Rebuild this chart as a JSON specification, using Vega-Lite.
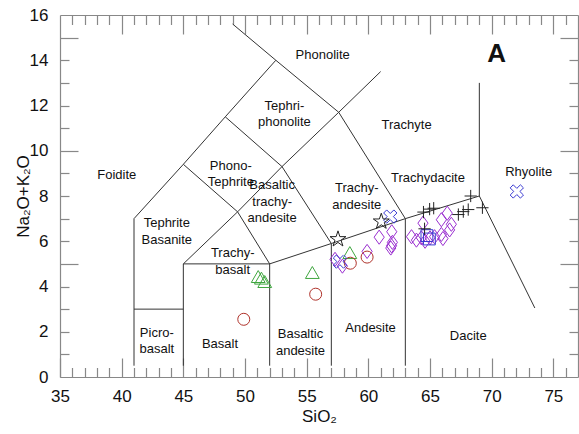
{
  "$schema": "https://vega.github.io/schema/vega-lite/v6.json",
  "width": 518,
  "height": 362,
  "autosize": "none",
  "padding": {"left": 60, "top": 15, "right": 1, "bottom": 57},
  "background": "white",
  "config": {"font": "Liberation Sans", "view": {"stroke": null}, "axis": {"grid": false, "domainColor": "#888", "tickColor": "#888", "domainWidth": 1.2, "tickWidth": 1.2, "labelColor": "#111", "titleColor": "#111", "labelFont": "Liberation Sans", "titleFont": "Liberation Sans"}},
  "datasets": {
    "bounds": [
      {"x": 41, "y": 0.5, "x2": 41, "y2": 7}, {"x": 41, "y": 7, "x2": 45, "y2": 9.4}, {"x": 45, "y": 9.4, "x2": 48.4, "y2": 11.5}, {"x": 48.4, "y": 11.5, "x2": 52.5, "y2": 14},
      {"x": 49, "y": 15.6, "x2": 52.5, "y2": 14}, {"x": 52.5, "y": 14, "x2": 57.6, "y2": 11.7}, {"x": 57.6, "y": 11.7, "x2": 63, "y2": 7}, {"x": 63, "y": 7, "x2": 69, "y2": 8}, {"x": 69, "y": 8, "x2": 73.5, "y2": 3.05},
      {"x": 41, "y": 3, "x2": 45, "y2": 3},
      {"x": 45, "y": 0.5, "x2": 45, "y2": 5}, {"x": 45, "y": 5, "x2": 52, "y2": 5}, {"x": 52, "y": 5, "x2": 57, "y2": 5.9}, {"x": 57, "y": 5.9, "x2": 63, "y2": 7},
      {"x": 45, "y": 5, "x2": 49.4, "y2": 7.3}, {"x": 49.4, "y": 7.3, "x2": 53, "y2": 9.3}, {"x": 53, "y": 9.3, "x2": 57.6, "y2": 11.7},
      {"x": 45, "y": 9.4, "x2": 49.4, "y2": 7.3}, {"x": 49.4, "y": 7.3, "x2": 52, "y2": 5},
      {"x": 48.4, "y": 11.5, "x2": 53, "y2": 9.3}, {"x": 53, "y": 9.3, "x2": 57, "y2": 5.9},
      {"x": 52, "y": 0.5, "x2": 52, "y2": 5},
      {"x": 57, "y": 0.5, "x2": 57, "y2": 5.9},
      {"x": 63, "y": 0.5, "x2": 63, "y2": 7},
      {"x": 57.6, "y": 11.7, "x2": 61, "y2": 13.5},
      {"x": 69, "y": 8, "x2": 69, "y2": 13}
    ],
    "names": [
      {"t": "Phonolite", "x": 56.3, "y": 14.25},
      {"t": "Tephri-\nphonolite", "x": 53.2, "y": 12.0},
      {"t": "Trachyte", "x": 63.1, "y": 11.15},
      {"t": "Foidite", "x": 39.6, "y": 8.94},
      {"t": "Phono-\nTephrite", "x": 48.85, "y": 9.34},
      {"t": "Rhyolite", "x": 73.0, "y": 9.07},
      {"t": "Basaltic\ntrachy-\nandesite", "x": 52.2, "y": 8.47},
      {"t": "Trachy-\nandesite", "x": 59.06, "y": 8.34},
      {"t": "Trachydacite", "x": 64.83, "y": 8.8},
      {"t": "Tephrite\nBasanite", "x": 43.66, "y": 6.79},
      {"t": "Trachy-\nbasalt", "x": 49.0, "y": 5.46},
      {"t": "Picro-\nbasalt", "x": 42.85, "y": 1.95},
      {"t": "Basalt", "x": 47.97, "y": 1.46},
      {"t": "Basaltic\nandesite", "x": 54.5, "y": 1.88},
      {"t": "Andesite", "x": 60.18, "y": 2.17},
      {"t": "Dacite", "x": 68.1, "y": 1.81}
    ],
    "samples": [
      {"g": "S1", "x": 51.07, "y": 4.44}, {"g": "S1", "x": 51.33, "y": 4.37}, {"g": "S1", "x": 51.6, "y": 4.22}, {"g": "S1", "x": 55.46, "y": 4.62}, {"g": "S1", "x": 58.5, "y": 5.5},
      {"g": "S2", "x": 49.9, "y": 2.55}, {"g": "S2", "x": 55.73, "y": 3.66}, {"g": "S2", "x": 58.54, "y": 5.03}, {"g": "S2", "x": 59.9, "y": 5.3},
      {"g": "S3", "x": 57.3, "y": 5.2}, {"g": "S3", "x": 57.9, "y": 4.9}, {"g": "S3", "x": 59.9, "y": 5.55}, {"g": "S3", "x": 60.88, "y": 6.18}, {"g": "S3", "x": 61.9, "y": 6.42}, {"g": "S3", "x": 61.95, "y": 5.95}, {"g": "S3", "x": 61.88, "y": 5.8}, {"g": "S3", "x": 61.82, "y": 5.7},
      {"g": "S3", "x": 63.5, "y": 6.2}, {"g": "S3", "x": 63.9, "y": 6.05}, {"g": "S3", "x": 64.3, "y": 6.15}, {"g": "S3", "x": 64.43, "y": 6.8}, {"g": "S3", "x": 64.6, "y": 6.0}, {"g": "S3", "x": 65.0, "y": 6.15}, {"g": "S3", "x": 65.37, "y": 6.2}, {"g": "S3", "x": 65.92, "y": 6.95}, {"g": "S3", "x": 66.4, "y": 7.24}, {"g": "S3", "x": 65.92, "y": 6.3}, {"g": "S3", "x": 66.05, "y": 6.12}, {"g": "S3", "x": 66.59, "y": 6.5}, {"g": "S3", "x": 66.73, "y": 6.75},
      {"g": "S4", "x": 72.04, "y": 8.2}, {"g": "S4", "x": 61.78, "y": 7.09}, {"g": "S4", "x": 57.7, "y": 5.1},
      {"g": "S5", "x": 64.75, "y": 6.25}, {"g": "S5", "x": 64.95, "y": 6.1},
      {"g": "S6", "x": 57.54, "y": 6.09}, {"g": "S6", "x": 61.05, "y": 6.87},
      {"g": "S7", "x": 64.47, "y": 7.29}, {"g": "S7", "x": 64.97, "y": 7.42}, {"g": "S7", "x": 65.3, "y": 7.46}, {"g": "S7", "x": 67.3, "y": 7.18}, {"g": "S7", "x": 67.7, "y": 7.31}, {"g": "S7", "x": 68.1, "y": 7.4}, {"g": "S7", "x": 68.3, "y": 8.0}, {"g": "S7", "x": 69.25, "y": 7.48}, {"g": "S7", "x": 64.56, "y": 6.55}
    ]
  },
  "layer": [
    {
      "data": {"name": "bounds"},
      "mark": {"type": "rule", "color": "#333", "strokeWidth": 1},
      "encoding": {
        "x": {"field": "x", "type": "quantitative", "scale": {"domain": [35, 77], "nice": false, "zero": false},
              "axis": {"orient": "bottom", "values": [35, 40, 45, 50, 55, 60, 65, 70, 75], "tickSize": -19, "labelPadding": 30.5,
                       "labelFontSize": 17, "labelOverlap": false, "labelFlush": false, "title": "SiO₂", "titleFontSize": 17, "titleFontWeight": "normal", "titlePadding": 4}},
        "y": {"field": "y", "type": "quantitative", "scale": {"domain": [0, 16], "nice": false, "zero": false},
              "axis": {"orient": "left", "values": [0, 2, 4, 6, 8, 10, 12, 14, 16], "ticks": false, "labelPadding": 12,
                       "labelFontSize": 17, "labelOverlap": false, "labelFlush": false, "title": "Na₂O+K₂O", "titleFontSize": 17, "titleFontWeight": "normal", "titlePadding": -3}},
        "x2": {"field": "x2"},
        "y2": {"field": "y2"}
      }
    },
    {
      "data": {"name": "names"},
      "mark": {"type": "text", "fontSize": 13, "lineBreak": "\n", "lineHeight": 16.5, "align": "center", "baseline": "middle", "color": "#111"},
      "encoding": {
        "x": {"field": "x", "type": "quantitative", "scale": {"domain": [35, 77], "nice": false, "zero": false},
              "axis": {"orient": "bottom", "values": [36,37,38,39,41,42,43,44,46,47,48,49,51,52,53,54,56,57,58,59,61,62,63,64,66,67,68,69,71,72,73,74,76], "ticks": true, "tickSize": -9.5, "labels": true, "labelExpr": "''", "labelOverlap": false, "domain": false, "title": null}},
        "y": {"field": "y", "type": "quantitative", "scale": {"domain": [0, 16], "nice": false, "zero": false},
              "axis": {"orient": "left", "values": [5, 10, 15], "ticks": true, "tickSize": -18, "labels": true, "labelExpr": "''", "labelOverlap": false, "domain": false, "title": null}},
        "text": {"field": "t"}
      }
    },
    {
      "data": {"values": [{"t": "A", "x": 70.4, "y": 14.27}]},
      "mark": {"type": "text", "fontSize": 26, "fontWeight": "bold", "align": "center", "baseline": "middle", "color": "#111"},
      "encoding": {
        "x": {"field": "x", "type": "quantitative", "scale": {"domain": [35, 77], "nice": false, "zero": false},
              "axis": {"orient": "top", "values": [40, 45, 50, 55, 60, 65, 70, 75], "ticks": true, "tickSize": -19, "labels": true, "labelExpr": "''", "labelOverlap": false, "title": null}},
        "y": {"field": "y", "type": "quantitative", "scale": {"domain": [0, 16], "nice": false, "zero": false},
              "axis": {"orient": "left", "values": [1,2,3,4,6,7,8,9,11,12,13,14], "ticks": true, "tickSize": -9, "labels": true, "labelExpr": "''", "labelOverlap": false, "domain": false, "title": null}},
        "text": {"field": "t"}
      }
    },
    {
      "data": {"name": "samples"},
      "transform": [{"filter": "datum.g === 'S3'"}],
      "mark": {"type": "point", "shape": "M0,-1L0.72,0L0,1L-0.72,0Z", "size": 200, "filled": false, "strokeWidth": 1, "opacity": 1, "color": "#9a2fd0"},
      "encoding": {
        "x": {"field": "x", "type": "quantitative", "scale": {"domain": [35, 77], "nice": false, "zero": false},
              "axis": {"orient": "top", "values": [36,37,38,39,41,42,43,44,46,47,48,49,51,52,53,54,56,57,58,59,61,62,63,64,66,67,68,69,71,72,73,74,76], "ticks": true, "tickSize": -9.5, "labels": true, "labelExpr": "''", "labelOverlap": false, "domain": false, "title": null}},
        "y": {"field": "y", "type": "quantitative", "scale": {"domain": [0, 16], "nice": false, "zero": false},
              "axis": {"orient": "right", "values": [5, 10, 15], "ticks": true, "tickSize": -18, "labels": true, "labelExpr": "''", "labelOverlap": false, "title": null}}
      }
    },
    {
      "data": {"name": "samples"},
      "transform": [{"filter": "datum.g === 'S1'"}],
      "mark": {"type": "point", "shape": "triangle-up", "size": 190, "filled": false, "strokeWidth": 1, "opacity": 1, "color": "#3fa63f"},
      "encoding": {
        "x": {"field": "x", "type": "quantitative", "scale": {"domain": [35, 77], "nice": false, "zero": false}, "axis": null},
        "y": {"field": "y", "type": "quantitative", "scale": {"domain": [0, 16], "nice": false, "zero": false},
              "axis": {"orient": "right", "values": [1,2,3,4,6,7,8,9,11,12,13,14], "ticks": true, "tickSize": -9, "labels": true, "labelExpr": "''", "labelOverlap": false, "domain": false, "title": null}}
      }
    },
    {
      "data": {"name": "samples"},
      "transform": [{"filter": "datum.g === 'S2'"}],
      "mark": {"type": "point", "shape": "circle", "size": 144, "filled": false, "strokeWidth": 1, "opacity": 1, "color": "#b0332b"},
      "encoding": {
        "x": {"field": "x", "type": "quantitative", "scale": {"domain": [35, 77], "nice": false, "zero": false}, "axis": null},
        "y": {"field": "y", "type": "quantitative", "scale": {"domain": [0, 16], "nice": false, "zero": false}, "axis": null}
      }
    },
    {
      "data": {"name": "samples"},
      "transform": [{"filter": "datum.g === 'S4'"}],
      "mark": {"type": "point", "shape": "M0.495,-0.919L0.919,-0.495L0.424,0L0.919,0.495L0.495,0.919L0,0.424L-0.495,0.919L-0.919,0.495L-0.424,0L-0.919,-0.495L-0.495,-0.919L0,-0.424Z", "size": 210, "filled": false, "strokeWidth": 1, "opacity": 1, "color": "#3a3ad2"},
      "encoding": {
        "x": {"field": "x", "type": "quantitative", "scale": {"domain": [35, 77], "nice": false, "zero": false}, "axis": null},
        "y": {"field": "y", "type": "quantitative", "scale": {"domain": [0, 16], "nice": false, "zero": false}, "axis": null}
      }
    },
    {
      "data": {"name": "samples"},
      "transform": [{"filter": "datum.g === 'S5'"}],
      "mark": {"type": "point", "shape": "square", "size": 140, "filled": false, "strokeWidth": 1, "opacity": 1, "color": "#3a3ad2"},
      "encoding": {
        "x": {"field": "x", "type": "quantitative", "scale": {"domain": [35, 77], "nice": false, "zero": false}, "axis": null},
        "y": {"field": "y", "type": "quantitative", "scale": {"domain": [0, 16], "nice": false, "zero": false}, "axis": null}
      }
    },
    {
      "data": {"name": "samples"},
      "transform": [{"filter": "datum.g === 'S6'"}],
      "mark": {"type": "point", "shape": "M0,-1L0.2245,-0.309L0.951,-0.309L0.363,0.118L0.588,0.809L0,0.382L-0.588,0.809L-0.363,0.118L-0.951,-0.309L-0.2245,-0.309Z", "size": 280, "filled": false, "strokeWidth": 1, "opacity": 1, "color": "#222222"},
      "encoding": {
        "x": {"field": "x", "type": "quantitative", "scale": {"domain": [35, 77], "nice": false, "zero": false}, "axis": null},
        "y": {"field": "y", "type": "quantitative", "scale": {"domain": [0, 16], "nice": false, "zero": false}, "axis": null}
      }
    },
    {
      "data": {"name": "samples"},
      "transform": [{"filter": "datum.g === 'S7'"}],
      "mark": {"type": "point", "shape": "M-1,0L1,0M0,-1L0,1", "size": 150, "filled": false, "strokeWidth": 1, "opacity": 1, "color": "#222222"},
      "encoding": {
        "x": {"field": "x", "type": "quantitative", "scale": {"domain": [35, 77], "nice": false, "zero": false}, "axis": null},
        "y": {"field": "y", "type": "quantitative", "scale": {"domain": [0, 16], "nice": false, "zero": false}, "axis": null}
      }
    }
  ],
  "resolve": {"axis": {"x": "independent", "y": "independent"}}
}
